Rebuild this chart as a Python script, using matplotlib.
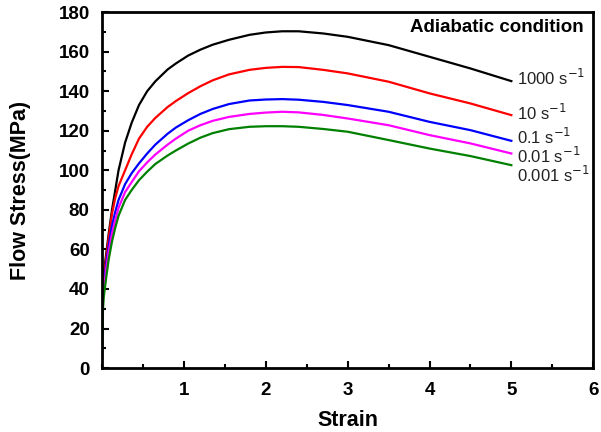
import numpy as np
import matplotlib.pyplot as plt
from matplotlib.ticker import MultipleLocator

plt.rc('font', family='Liberation Sans')

#-------------------------------------------------------------------------------
#DATA

strain = [0.0, 0.01, 0.02, 0.05, 0.08, 0.12, 0.16, 0.2, 0.28, 0.36, 0.45,
          0.55, 0.65, 0.8, 0.9, 1.05, 1.2, 1.35, 1.55, 1.8, 2.0, 2.2, 2.4,
          2.7, 3.0, 3.5, 4.0, 4.5, 5.0]

s_1000 = [42, 45, 48, 58, 68, 80, 90, 100, 114, 124, 133,
          140, 145, 151, 154, 158, 161, 163.5, 166, 168.5, 169.7, 170.3, 170.3,
          169.2, 167.5, 163.3, 157.4, 151.5, 145.1]
s_10 = [38, 42, 46, 56, 66, 78, 86, 92, 100, 108, 116,
        122, 126.5, 132, 135, 139, 142.5, 145.5, 148.5, 150.8, 151.8, 152.3, 152.2,
        150.8, 149, 144.8, 138.9, 133.8, 127.9]
s_01 = [33, 38, 42, 53, 62, 72, 79, 85, 93, 98.5, 103.5,
        108.5, 113, 118.5, 121.6, 125.3, 128.5, 131, 133.5, 135.3, 135.8, 136, 135.7,
        134.6, 133, 129.6, 124.5, 120.3, 114.9]
s_001 = [32, 36, 40, 50, 59, 68, 75, 81, 89, 94, 99.5,
         104, 108, 113, 116, 120, 122.8, 125, 127, 128.5, 129.2, 129.6, 129.3,
         128, 126.2, 122.8, 117.8, 113.6, 108.5]
s_0001 = [5, 30, 36, 46, 55, 64, 71, 77, 85, 90, 95,
          99.3, 103.2, 107.5, 110, 113.5, 116.5, 118.8, 120.8, 122, 122.3, 122.3, 122,
          120.9, 119.5, 115.3, 111, 107.2, 102.6]

series = [s_1000, s_10, s_01, s_001, s_0001]
colors = ['black', 'red', 'blue', 'magenta', 'green']
labels = ['1000 s$^{-1}$', '10 s$^{-1}$', '0.1 s$^{-1}$', '0.01 s$^{-1}$',
          '0.001 s$^{-1}$']
label_y = [146.5, 129, 117, 107.5, 97.5]

#-------------------------------------------------------------------------------
#PLOT

fig = plt.figure(figsize=(6.01, 4.32), dpi=100)
ax = fig.add_axes([0.170, 0.148, 0.817, 0.824])

for s, c in zip(series, colors):
    ax.plot(strain, s, color=c, lw=1.6)

for lab, ly in zip(labels, label_y):
    ax.text(5.07, ly, lab, fontsize=12, va='center', ha='left', color='#222222')

ax.text(5.88, 172, 'Adiabatic condition', fontsize=13.5, fontweight='bold',
        ha='right', va='center')

ax.set_xlim(0, 6)
ax.set_ylim(0, 180)
ax.set_xticks([1, 2, 3, 4, 5, 6])
ax.set_yticks(np.arange(0, 181, 20))
ax.xaxis.set_minor_locator(MultipleLocator(0.5))
ax.yaxis.set_minor_locator(MultipleLocator(10))
ax.tick_params(which='both', direction='in', width=1.5, top=False,
               right=False, labelsize=13.5)
ax.tick_params(which='major', length=5)
ax.tick_params(which='minor', length=3)
ax.tick_params(axis='y', pad=9)
ax.tick_params(axis='x', pad=10)
for lbl in ax.get_xticklabels() + ax.get_yticklabels():
    lbl.set_fontweight('bold')
for sp in ax.spines.values():
    sp.set_linewidth(2)

ax.set_xlabel('Strain', fontsize=15.5, fontweight='bold', labelpad=8)
ax.set_ylabel('Flow Stress(MPa)', fontsize=15.5, fontweight='bold', labelpad=20)

fig.savefig('out.png', dpi=100)
